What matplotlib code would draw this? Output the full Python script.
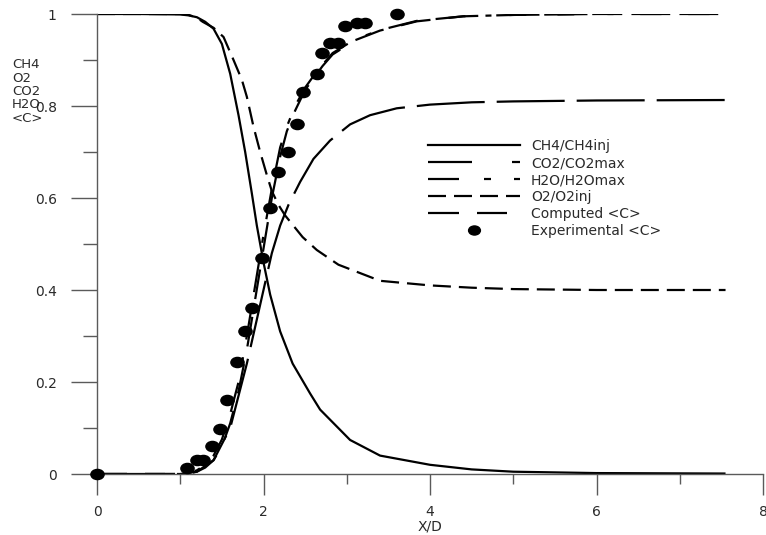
import matplotlib
matplotlib.use("Agg")
import matplotlib.pyplot as plt
from matplotlib.lines import Line2D
from matplotlib.path import Path
from matplotlib.transforms import Affine2D
from matplotlib.ticker import MultipleLocator

plt.rcParams['font.family'] = ['DejaVu Sans']
plt.rcParams['lines.scale_dashes'] = False

# ---------------- data ----------------
ch4_x = [0, 0.5, 1.0, 1.1, 1.2, 1.3, 1.4, 1.5, 1.6, 1.7, 1.78, 1.86, 1.92, 2.0, 2.08, 2.2,
         2.35, 2.56, 2.68, 3.04, 3.4, 4.0, 4.5, 5.0, 6.0, 7.55]
ch4_y = [1, 1, 0.999, 0.997, 0.993, 0.983, 0.968, 0.935, 0.87, 0.78, 0.70, 0.61, 0.54, 0.46,
         0.39, 0.31, 0.24, 0.175, 0.14, 0.074, 0.04, 0.02, 0.01, 0.005, 0.002, 0.001]

o2_x = [0, 0.5, 1.0, 1.1, 1.2, 1.27, 1.4, 1.52, 1.64, 1.74, 1.8, 1.88, 1.96, 2.04, 2.1, 2.18,
        2.26, 2.47, 2.64, 2.9, 3.4, 4.0, 4.5, 5.0, 6.0, 7.55]
o2_y = [1, 1, 1, 0.998, 0.992, 0.983, 0.97, 0.95, 0.90, 0.857, 0.82, 0.755, 0.70, 0.65, 0.615,
        0.585, 0.562, 0.515, 0.487, 0.455, 0.42, 0.41, 0.405, 0.402, 0.40, 0.40]

co2_x = [0, 0.5, 1.0, 1.2, 1.4, 1.6, 1.8, 1.9, 2.0, 2.1, 2.2, 2.3, 2.44, 2.6, 2.8, 3.04, 3.28,
         3.6, 4.0, 4.5, 5.0, 6.0, 7.55]
co2_y = [0, 0, 0, 0.005, 0.03, 0.10, 0.24, 0.32, 0.40, 0.48, 0.54, 0.585, 0.635, 0.685, 0.725,
         0.76, 0.78, 0.795, 0.803, 0.808, 0.81, 0.812, 0.813]

h2o_x = [0, 0.5, 1.0, 1.1, 1.2, 1.3, 1.4, 1.5, 1.6, 1.7, 1.8, 1.9, 2.0, 2.1, 2.2, 2.28, 2.38,
         2.5, 2.6, 2.71, 2.83, 3.1, 3.4, 3.84, 4.4, 5.0, 6.0, 7.55]
h2o_y = [0, 0, 0, 0.002, 0.008, 0.02, 0.04, 0.075, 0.13, 0.2, 0.3, 0.41, 0.52, 0.62, 0.71, 0.755,
         0.80, 0.84, 0.865, 0.89, 0.915, 0.945, 0.965, 0.985, 0.995, 0.998, 1.0, 1.0]

comp_x = h2o_x
comp_y = [0, 0, 0, 0.001, 0.005, 0.014, 0.03, 0.06, 0.11, 0.18, 0.27, 0.38, 0.49, 0.60, 0.69,
          0.745, 0.79, 0.835, 0.86, 0.887, 0.912, 0.943, 0.964, 0.984, 0.995, 0.998, 1.0, 1.0]

exp_x = [0, 1.08, 1.2, 1.27, 1.38, 1.48, 1.56, 1.68, 1.78, 1.86, 1.98, 2.08, 2.18, 2.29, 2.4,
         2.48, 2.64, 2.7, 2.8, 2.9, 2.98, 3.12, 3.22, 3.6]
exp_y = [0, 0.013, 0.03, 0.03, 0.06, 0.098, 0.16, 0.243, 0.31, 0.36, 0.47, 0.578, 0.657, 0.70,
         0.76, 0.83, 0.87, 0.915, 0.937, 0.937, 0.974, 0.98, 0.98, 1.0]

labels = ["CH4/CH4inj", "CO2/CO2max", "H2O/H2Omax", "O2/O2inj", "Computed <C>", "Experimental <C>"]
ylabel_lines = ["CH4", "O2", "CO2", "H2O", "<C>"]
xticks = [0, 2, 4, 6, 8]
yticks = [0, 0.2, 0.4, 0.6, 0.8, 1.0]
ytick_labels = ["0", "0.2", "0.4", "0.6", "0.8", "1"]

# ---------------- figure ----------------
fig = plt.figure(figsize=(7.66, 5.35), dpi=100)
ax = fig.add_axes([97 / 766, 61 / 535, 666 / 766, 460 / 535])
lw = 1.6
k = 0.72  # px -> pt
txt = '#2a2a2a'
axc = '#5a5a5a'

# slightly wide elliptical dot, as in the original
ellipse = Path.unit_circle().transformed(Affine2D().scale(1.3, 1.0))

ax.plot(ch4_x, ch4_y, color='black', lw=lw, solid_capstyle='butt')
ax.plot(co2_x, co2_y, color='black', lw=lw, dashes=(68 * k, 12 * k))
ax.plot(h2o_x, h2o_y, color='black', lw=lw,
        dashes=(30 * k, 18 * k, 30 * k, 20 * k, 6 * k, 18 * k))
ax.plot(o2_x, o2_y, color='black', lw=lw, dashes=(18 * k, 8 * k))
ax.plot(comp_x, comp_y, color='black', lw=lw, dashes=(30 * k, 18 * k))
ax.plot(exp_x, exp_y, linestyle='none', marker=ellipse, color='black', ms=9.5,
        clip_on=False, zorder=5)

ax.set_xlim(0, 8)
ax.set_ylim(0, 1)
for s in ['top', 'right']:
    ax.spines[s].set_visible(False)
for s in ['left', 'bottom']:
    ax.spines[s].set_color(axc)
    ax.spines[s].set_linewidth(1.0)

ax.set_xticks(xticks)
ax.set_yticks(yticks)
ax.set_yticklabels(ytick_labels)
ax.xaxis.set_minor_locator(MultipleLocator(1))
ax.yaxis.set_minor_locator(MultipleLocator(0.1))
ax.tick_params(axis='y', which='major', length=19, width=1.0, color=axc, pad=10,
               labelsize=10, labelcolor=txt)
ax.tick_params(axis='y', which='minor', length=10, width=1.0, color=axc)
ax.tick_params(axis='x', which='major', length=15, width=1.0, color=axc, pad=7,
               labelsize=10, labelcolor=txt)
ax.tick_params(axis='x', which='minor', length=7, width=1.0, color=axc)
ax.set_xlabel("X/D", fontsize=10, color=txt, labelpad=1)

fig.text(12 / 766, 1 - 58 / 535, "\n".join(ylabel_lines), fontsize=9.5, color=txt,
         ha='left', va='top', linespacing=1.05)

# legend proxies reproducing the legend line samples
handles = [
    Line2D([], [], color='black', lw=lw),
    Line2D([], [], color='black', lw=lw, dashes=(44 * k, 40 * k, 8 * k, 40 * k)),
    Line2D([], [], color='black', lw=lw, dashes=(31 * k, 25 * k, 7 * k, 23 * k, 7 * k, 25 * k)),
    Line2D([], [], color='black', lw=lw, dashes=(18 * k, 8 * k)),
    Line2D([], [], color='black', lw=lw, dashes=(31 * k, 18 * k, 30 * k, 13 * k)),
    Line2D([], [], color='black', lw=0, marker=ellipse, ms=8.5),
]
leg = ax.legend(handles, labels, loc='upper left', bbox_to_anchor=(428 / 766, 1 - 139 / 535),
                bbox_transform=fig.transFigure, frameon=False, fontsize=10,
                handlelength=92 * k / 10, handletextpad=0.79, labelspacing=0.22,
                borderpad=0, borderaxespad=0, numpoints=1)
for t in leg.get_texts():
    t.set_color(txt)

fig.savefig("out.png", dpi=100)
